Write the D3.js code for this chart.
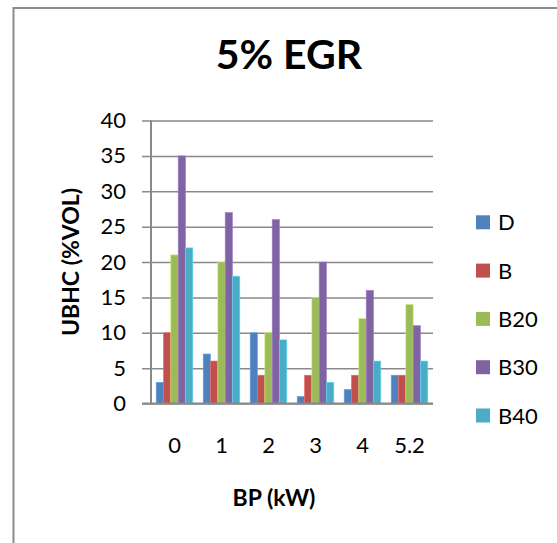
<!DOCTYPE html>
<html>
<head>
<meta charset="utf-8">
<script src="https://cdn.jsdelivr.net/npm/d3@7"></script>
<style>
  html, body { margin: 0; padding: 0; background: #fff; }
  svg { display: block; }
  text { font-family: Lato, "Open Sans", "Liberation Sans", sans-serif; fill: #000; }
</style>
</head>
<body>
<svg id="chart" width="557" height="543"></svg>
<script>
// Unburned hydrocarbon emissions at 5% EGR, by brake power and fuel blend
const categories = ["0", "1", "2", "3", "4", "5.2"];
const seriesNames = ["D", "B", "B20", "B30", "B40"];
const seriesColors = ["#4F81BD", "#C0504D", "#9BBB59", "#8064A2", "#4BACC6"];
const valuesD   = [3, 7, 10, 1, 2, 4];
const valuesB   = [10, 6, 4, 4, 4, 4];
const valuesB20 = [21, 20, 10, 15, 12, 14];
const valuesB30 = [35, 27, 26, 20, 16, 11];
const valuesB40 = [22, 18, 9, 3, 6, 6];
const yTicks = [0, 5, 10, 15, 20, 25, 30, 35, 40];

const seriesValues = [valuesD, valuesB, valuesB20, valuesB30, valuesB40];

const svg = d3.select("#chart");
const plot = { left: 151, right: 433, top: 120.5, bottom: 403.5 };
const gridColor = "#898989";

// outer chart frame (extends past the visible area on the right and bottom)
svg.append("rect")
  .attr("x", 13.5).attr("y", 8)
  .attr("width", 600).attr("height", 600)
  .attr("fill", "none")
  .attr("stroke", "#8c8c8c")
  .attr("stroke-width", 2);

const x0 = d3.scaleBand()
  .domain(categories)
  .range([plot.left, plot.right])
  .paddingInner(0.22)
  .paddingOuter(0.11);

const x1 = d3.scaleBand()
  .domain(seriesNames)
  .range([0, x0.bandwidth()])
  .padding(0);

const y = d3.scaleLinear()
  .domain([0, 40])
  .range([plot.bottom, plot.top]);

const color = d3.scaleOrdinal().domain(seriesNames).range(seriesColors);

// horizontal gridlines with left tick marks
const yAxis = d3.axisLeft(y)
  .tickValues(yTicks)
  .tickSize(plot.right - plot.left + 9)
  .tickPadding(16)
  .tickFormat(d3.format("d"));

const yG = svg.append("g")
  .attr("transform", `translate(${plot.right},0)`)
  .call(yAxis);
yG.select(".domain").remove();
yG.selectAll(".tick line")
  .attr("stroke", gridColor)
  .attr("stroke-width", 1.5);
yG.selectAll(".tick text")
  .attr("x", -(plot.right - plot.left) - 25)
  .style("font-size", "22px")
  .attr("fill", "#000");

// vertical axis line
svg.append("line")
  .attr("x1", plot.left).attr("x2", plot.left)
  .attr("y1", plot.top).attr("y2", plot.bottom)
  .attr("stroke", gridColor)
  .attr("stroke-width", 2);

// bars
const groups = svg.append("g")
  .selectAll("g")
  .data(categories)
  .join("g")
  .attr("transform", d => `translate(${x0(d)},0)`);

groups.selectAll("rect")
  .data((c, ci) => seriesNames.map((s, si) => ({ s, v: seriesValues[si][ci] })))
  .join("rect")
  .attr("x", d => x1(d.s))
  .attr("y", d => y(d.v))
  .attr("width", x1.bandwidth())
  .attr("height", d => y(0) - y(d.v))
  .attr("fill", d => color(d.s))
  .attr("stroke", d => d3.color(color(d.s)).brighter(0.7))
  .attr("stroke-width", 0.6);

// horizontal axis line (drawn over the bar bases)
svg.append("line")
  .attr("x1", plot.left - 9).attr("x2", plot.right)
  .attr("y1", plot.bottom).attr("y2", plot.bottom)
  .attr("stroke", gridColor)
  .attr("stroke-width", 2);

// category labels
const xAxis = d3.axisBottom(x0).tickSize(0).tickPadding(34);
const xG = svg.append("g")
  .attr("transform", `translate(0,${plot.bottom})`)
  .call(xAxis);
xG.select(".domain").remove();
xG.selectAll(".tick text")
  .style("font-size", "22px")
  .attr("fill", "#000");

// title
svg.append("text")
  .attr("x", 289).attr("y", 69)
  .attr("text-anchor", "middle")
  .style("font-size", "41px")
  .style("font-weight", "bold")
  .text("5% EGR");

// axis titles
svg.append("text")
  .attr("x", 274).attr("y", 506)
  .attr("text-anchor", "middle")
  .style("font-size", "23px")
  .style("font-weight", "bold")
  .text("BP (kW)");

svg.append("text")
  .attr("transform", `translate(79,${(plot.top + plot.bottom) / 2}) rotate(-90)`)
  .attr("text-anchor", "middle")
  .style("font-size", "23px")
  .style("font-weight", "bold")
  .text("UBHC (%VOL)");

// legend
const legend = svg.append("g")
  .selectAll("g")
  .data(seriesNames)
  .join("g")
  .attr("transform", (d, i) => `translate(476,${222.3 + i * 48.3})`);

legend.append("rect")
  .attr("x", 0).attr("y", -7)
  .attr("width", 14).attr("height", 14)
  .attr("fill", d => color(d));

legend.append("text")
  .attr("x", 22).attr("y", 8)
  .style("font-size", "22px")
  .text(d => d);
</script>
</body>
</html>
